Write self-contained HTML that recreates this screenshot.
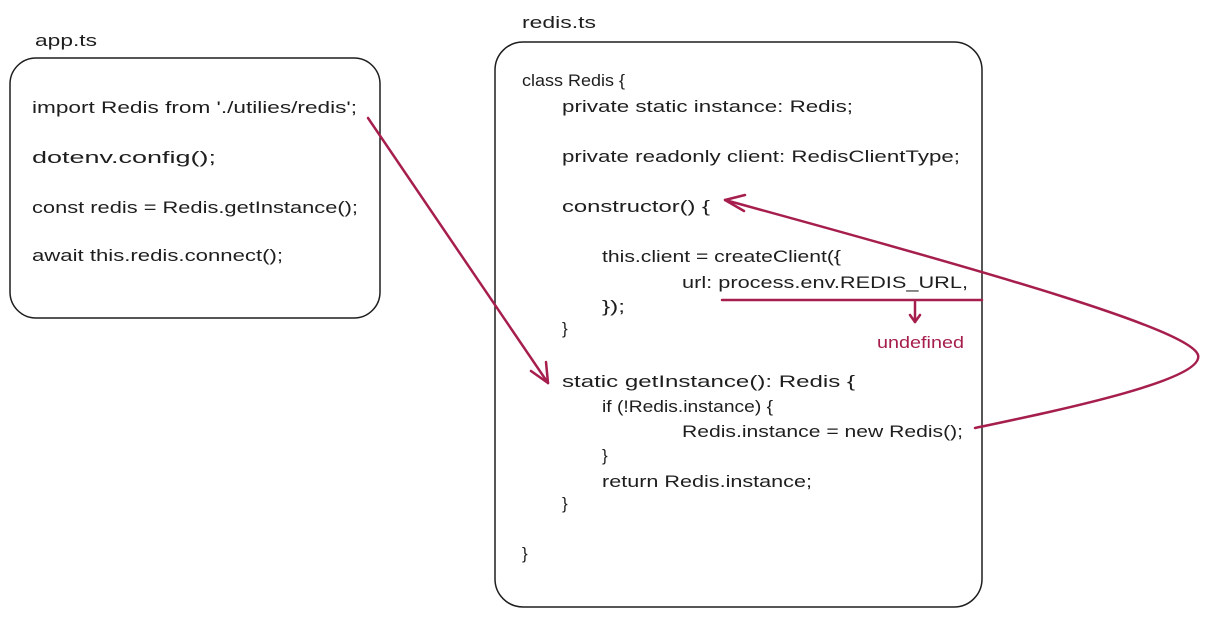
<!DOCTYPE html>
<html><head><meta charset="utf-8"><style>
html,body{margin:0;padding:0;background:#fff;}
svg{display:block;}
text{font-family:"Liberation Sans",sans-serif;font-size:17px;fill:#1e1e1e;}
.r{fill:#a61e4d;}
</style></head><body>
<svg width="1210" height="618" viewBox="0 0 1210 618" xmlns="http://www.w3.org/2000/svg">
<rect x="10" y="58" width="370" height="260" rx="26" fill="none" stroke="#1e1e1e" stroke-width="1.5"/>
<rect x="495" y="42" width="487" height="565" rx="28" fill="none" stroke="#1e1e1e" stroke-width="1.5"/>
<text x="35" y="46" textLength="62" lengthAdjust="spacingAndGlyphs">app.ts</text>
<text x="522" y="28" textLength="74" lengthAdjust="spacingAndGlyphs">redis.ts</text>

<text x="32" y="113" textLength="325" lengthAdjust="spacingAndGlyphs">import Redis from './utilies/redis';</text>
<text x="32" y="163" textLength="184" lengthAdjust="spacingAndGlyphs">dotenv.config();</text>
<text x="32" y="213" textLength="326" lengthAdjust="spacingAndGlyphs">const redis = Redis.getInstance();</text>
<text x="32" y="261" textLength="251" lengthAdjust="spacingAndGlyphs">await this.redis.connect();</text>

<text x="522" y="86" textLength="103" lengthAdjust="spacingAndGlyphs">class Redis {</text>
<text x="562" y="112" textLength="291" lengthAdjust="spacingAndGlyphs">private static instance: Redis;</text>
<text x="562" y="162" textLength="398" lengthAdjust="spacingAndGlyphs">private readonly client: RedisClientType;</text>
<text x="562" y="212" textLength="148" lengthAdjust="spacingAndGlyphs">constructor() {</text>
<text x="602" y="262" textLength="239" lengthAdjust="spacingAndGlyphs">this.client = createClient({</text>
<text x="682" y="288" textLength="286" lengthAdjust="spacingAndGlyphs">url: process.env.REDIS_URL,</text>
<text x="602" y="312" textLength="23" lengthAdjust="spacingAndGlyphs">});</text>
<text x="562" y="334">}</text>
<text x="562" y="387" textLength="293" lengthAdjust="spacingAndGlyphs">static getInstance(): Redis {</text>
<text x="602" y="412" textLength="171" lengthAdjust="spacingAndGlyphs">if (!Redis.instance) {</text>
<text x="682" y="437" textLength="281" lengthAdjust="spacingAndGlyphs">Redis.instance = new Redis();</text>
<text x="602" y="461">}</text>
<text x="602" y="487" textLength="210" lengthAdjust="spacingAndGlyphs">return Redis.instance;</text>
<text x="562" y="509">}</text>
<text x="522" y="559">}</text>
<text class="r" x="877" y="348" textLength="87" lengthAdjust="spacingAndGlyphs">undefined</text>

<g stroke="#a61e4d" stroke-width="2.5" fill="none" stroke-linecap="round" stroke-linejoin="round">
<path d="M368 118 L548 383"/>
<path d="M531 371 L548 383 L546 362"/>
<path d="M722 300 L982 300"/>
<path d="M915 302 L915 322"/>
<path d="M910 315 L915 322 L920 315"/>
<path d="M975 428 C1060 410 1205 380 1198 355 C1190 330 1000 275 725 200"/>
<path d="M745 195 L725 200 L744 211"/>
</g>
</svg>
</body></html>
